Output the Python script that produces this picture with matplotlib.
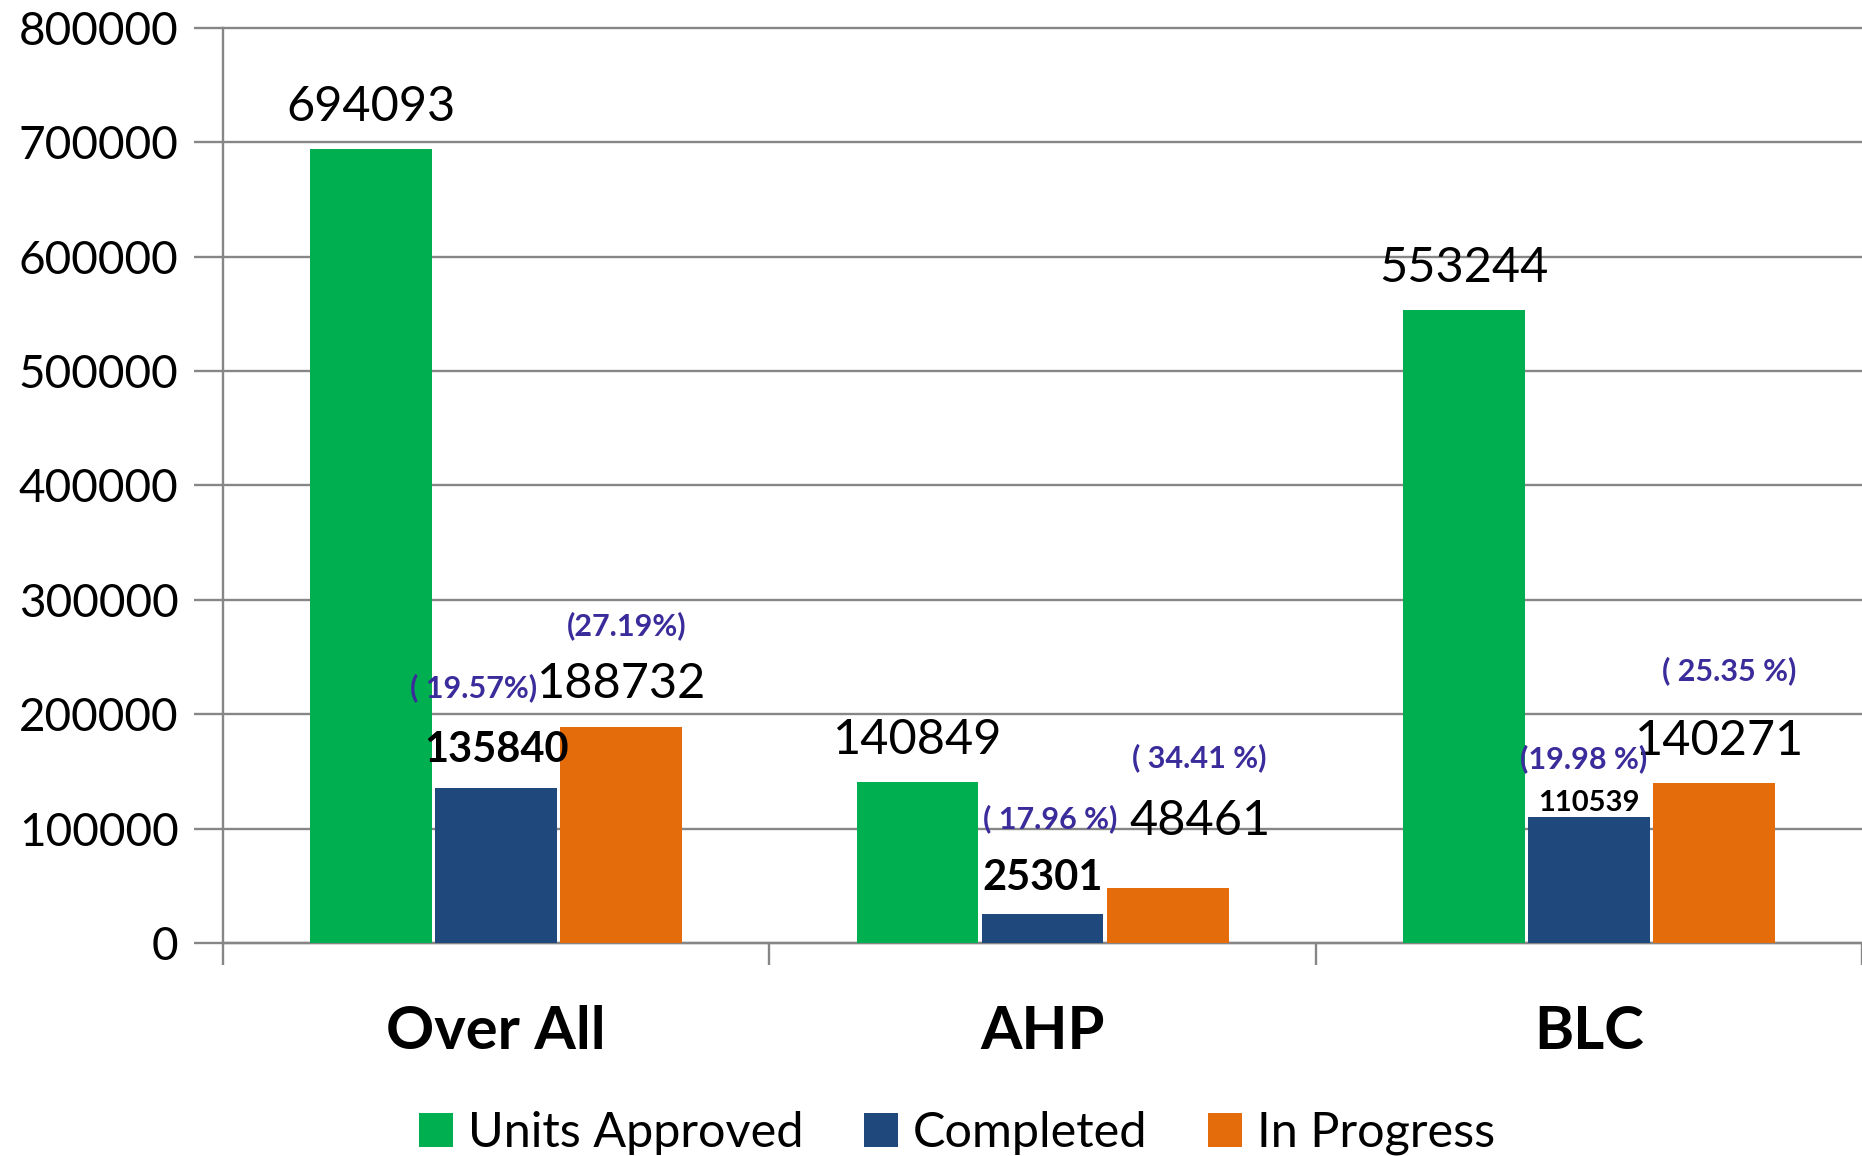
import matplotlib.pyplot as plt
import numpy as np

plt.rcParams['font.family'] = ['Lato', 'DejaVu Sans']

# data
categories = ['Over All', 'AHP', 'BLC']
units_approved = [694093, 140849, 553244]
completed = [135840, 25301, 110539]
in_progress = [188732, 48461, 140271]
completed_pct = ['( 19.57%)', '( 17.96 %)', '(19.98 %)']
progress_pct = ['(27.19%)', '( 34.41 %)', '( 25.35 %)']
yticks = [0, 100000, 200000, 300000, 400000, 500000, 600000, 700000, 800000]

series_names = ['Units Approved', 'Completed', 'In Progress']
colors = ['#00B050', '#1F497D', '#E46C0A']
pct_color = '#3B2C9B'
grid_color = '#868686'

# label layout (offsets relative to bar centre / bar top)
green_dy = [37000, 37000, 37000]
blue_dy = [33000, 31500, 12000]
blue_size = [30, 30, 21]
orange_dx = [0.0, 0.06, 0.01]
orange_dy = [38000, 58000, 36000]
cpct_dx = [-0.042, 0.014, -0.009]
cpct_dy = [87000, 83000, 51000]
ppct_dx = [0.238, 0.287, 0.257]
ppct_dy = [88400, 113200, 97500]

fig = plt.figure(figsize=(18.62, 11.56), dpi=100)
ax = fig.add_axes([0.1198, 0.1843, 0.8802, 0.7915])

x = np.arange(len(categories))
w = 0.223
step = 0.229
b1 = ax.bar(x - step, units_approved, w, color=colors[0], label=series_names[0], zorder=3)
b2 = ax.bar(x, completed, w, color=colors[1], label=series_names[1], zorder=3)
b3 = ax.bar(x + step, in_progress, w, color=colors[2], label=series_names[2], zorder=3)

ax.set_xlim(-0.5, len(categories) - 0.5)
ax.set_ylim(0, 800000)
ax.set_yticks(yticks)
ax.set_yticklabels([str(v) for v in yticks])
ax.tick_params(axis='y', direction='out', length=21, width=1.7, color=grid_color,
               labelsize=33, pad=11)

ax.set_xticks(x)
ax.set_xticklabels(categories, fontsize=43, fontweight='bold')
ax.set_xticks(np.arange(len(categories) + 1) - 0.5, minor=True)
ax.tick_params(axis='x', which='major', length=0, pad=45)
ax.tick_params(axis='x', which='minor', direction='out', length=16, width=1.7, color=grid_color)

ax.grid(axis='y', color=grid_color, linewidth=1.7, zorder=0)
ax.set_axisbelow(True)
for gl in ax.get_ygridlines():
    gl.set_clip_on(False)

for side in ['top', 'right']:
    ax.spines[side].set_visible(False)
for side in ['left', 'bottom']:
    ax.spines[side].set_color(grid_color)
    ax.spines[side].set_linewidth(1.7)

for i in range(len(categories)):
    ax.text(x[i] - step, units_approved[i] + green_dy[i], str(units_approved[i]),
            ha='center', va='center', fontsize=35)
    ax.text(x[i], completed[i] + blue_dy[i], str(completed[i]),
            ha='center', va='center', fontsize=blue_size[i], fontweight='bold')
    ax.text(x[i] + step + orange_dx[i], in_progress[i] + orange_dy[i], str(in_progress[i]),
            ha='center', va='center', fontsize=35)
    ax.text(x[i] + cpct_dx[i], completed[i] + cpct_dy[i], completed_pct[i],
            ha='center', va='center', fontsize=22, fontweight='bold', color=pct_color)
    ax.text(x[i] + ppct_dx[i], in_progress[i] + ppct_dy[i], progress_pct[i],
            ha='center', va='center', fontsize=22, fontweight='bold', color=pct_color)

fig.legend(handles=[b1, b2, b3], labels=series_names, loc='center',
           bbox_to_anchor=(0.514, 0.020), ncol=3, frameon=False, fontsize=35,
           handlelength=0.7, handleheight=0.7, handletextpad=0.3, columnspacing=1.25)

fig.savefig('out.png', dpi=100)
